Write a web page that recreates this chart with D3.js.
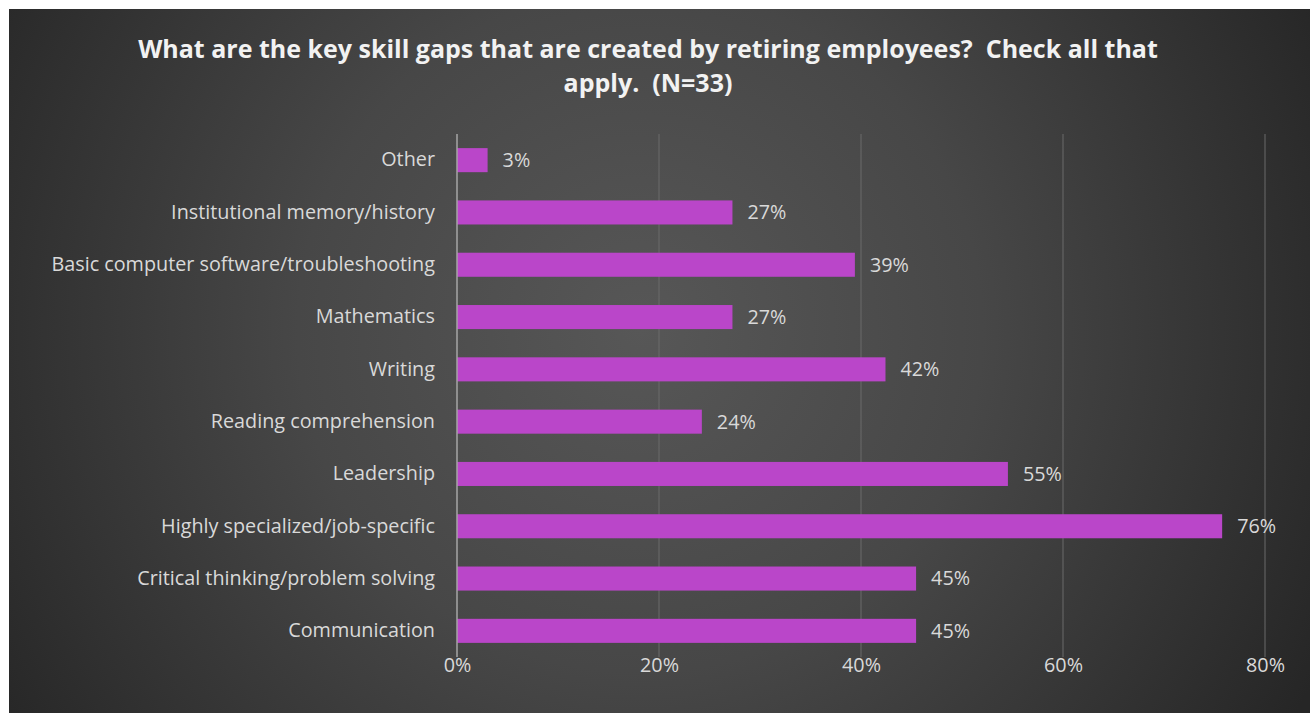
<!DOCTYPE html>
<html>
<head>
<meta charset="utf-8">
<script src="https://cdn.jsdelivr.net/npm/d3@7"></script>
<style>
  html, body { margin: 0; padding: 0; background: #ffffff; }
  svg { display: block; }
  .title { white-space: pre; }
</style>
</head>
<body>
<svg id="chart" width="1310" height="713"></svg>
<script>
// Survey responses, N = 33 (share of respondents per skill gap)
const categories = [
  "Other",
  "Institutional memory/history",
  "Basic computer software/troubleshooting",
  "Mathematics",
  "Writing",
  "Reading comprehension",
  "Leadership",
  "Highly specialized/job-specific",
  "Critical thinking/problem solving",
  "Communication"
];
const counts = [1, 9, 13, 9, 14, 8, 18, 25, 15, 15];
const respondents = 33;
const shares = counts.map(c => c / respondents);
const tickValues = [0, 0.2, 0.4, 0.6, 0.8];
const titleLines = [
  "What are the key skill gaps that are created by retiring employees?  Check all that",
  "apply.  (N=33)"
];

const W = 1310, H = 713;
const svg = d3.select("#chart");
const font = "'Open Sans', 'Noto Sans', sans-serif";
const labelSize = 19.8;

// Panel background with a soft radial glow
const defs = svg.append("defs");
const grad = defs.append("radialGradient")
  .attr("id", "bg")
  .attr("gradientUnits", "userSpaceOnUse")
  .attr("cx", 640).attr("cy", 330).attr("r", 760);
grad.append("stop").attr("offset", "0%").attr("stop-color", "#575757");
grad.append("stop").attr("offset", "45%").attr("stop-color", "#474747");
grad.append("stop").attr("offset", "100%").attr("stop-color", "#262626");

svg.append("rect")
  .attr("x", 9).attr("y", 9)
  .attr("width", W - 9).attr("height", H - 9)
  .attr("fill", "url(#bg)");

// Title
svg.append("text")
  .attr("class", "title")
  .attr("x", 648).attr("y", 58)
  .attr("text-anchor", "middle")
  .attr("font-family", font)
  .attr("font-weight", "bold")
  .attr("font-size", 25)
  .attr("fill", "#f2f2f2")
  .selectAll("tspan")
  .data(titleLines)
  .join("tspan")
  .attr("x", 648)
  .attr("dy", (d, i) => i === 0 ? 0 : 34)
  .text(d => d);

// Scales
const x = d3.scaleLinear().domain([0, 0.8]).range([457, 1265]);
const y = d3.scaleBand().domain(categories).range([134, 657]).paddingInner(0.54).paddingOuter(0.27);

// Vertical gridlines
svg.append("g")
  .selectAll("line")
  .data(tickValues.slice(1))
  .join("line")
  .attr("x1", d => x(d)).attr("x2", d => x(d))
  .attr("y1", 134).attr("y2", 657)
  .attr("stroke", "#6a6a6a")
  .attr("stroke-width", 1);

// Bars
svg.append("g")
  .selectAll("rect")
  .data(categories)
  .join("rect")
  .attr("x", x(0))
  .attr("y", d => y(d))
  .attr("width", (d, i) => x(shares[i]) - x(0))
  .attr("height", y.bandwidth())
  .attr("fill", "#ba46c9");

// Category axis line at 0%
svg.append("line")
  .attr("x1", x(0)).attr("x2", x(0))
  .attr("y1", 134).attr("y2", 657)
  .attr("stroke", "#a6a6a6")
  .attr("stroke-width", 1.5);

// Category labels
const yAxis = d3.axisLeft(y).tickSize(0).tickPadding(22);
const yg = svg.append("g").attr("transform", `translate(${x(0)},0)`).call(yAxis);
yg.select(".domain").remove();
yg.selectAll("text")
  .attr("font-family", font)
  .attr("font-size", labelSize)
  .attr("fill", "#d9d9d9");

// Value axis labels
const xAxis = d3.axisBottom(x).tickValues(tickValues).tickFormat(d3.format(".0%")).tickSize(0).tickPadding(0);
const xg = svg.append("g").attr("transform", "translate(0,665)").call(xAxis);
xg.select(".domain").remove();
xg.selectAll("text")
  .attr("dy", "0.35em")
  .attr("font-family", font)
  .attr("font-size", labelSize)
  .attr("fill", "#d9d9d9");

// Value labels
const pct = d3.format(".0%");
svg.append("g")
  .selectAll("text")
  .data(categories)
  .join("text")
  .attr("x", (d, i) => x(shares[i]) + 15)
  .attr("y", d => y(d) + y.bandwidth() / 2)
  .attr("dy", "0.35em")
  .attr("font-family", font)
  .attr("font-size", labelSize)
  .attr("fill", "#d9d9d9")
  .text((d, i) => pct(shares[i]));
</script>
</body>
</html>
